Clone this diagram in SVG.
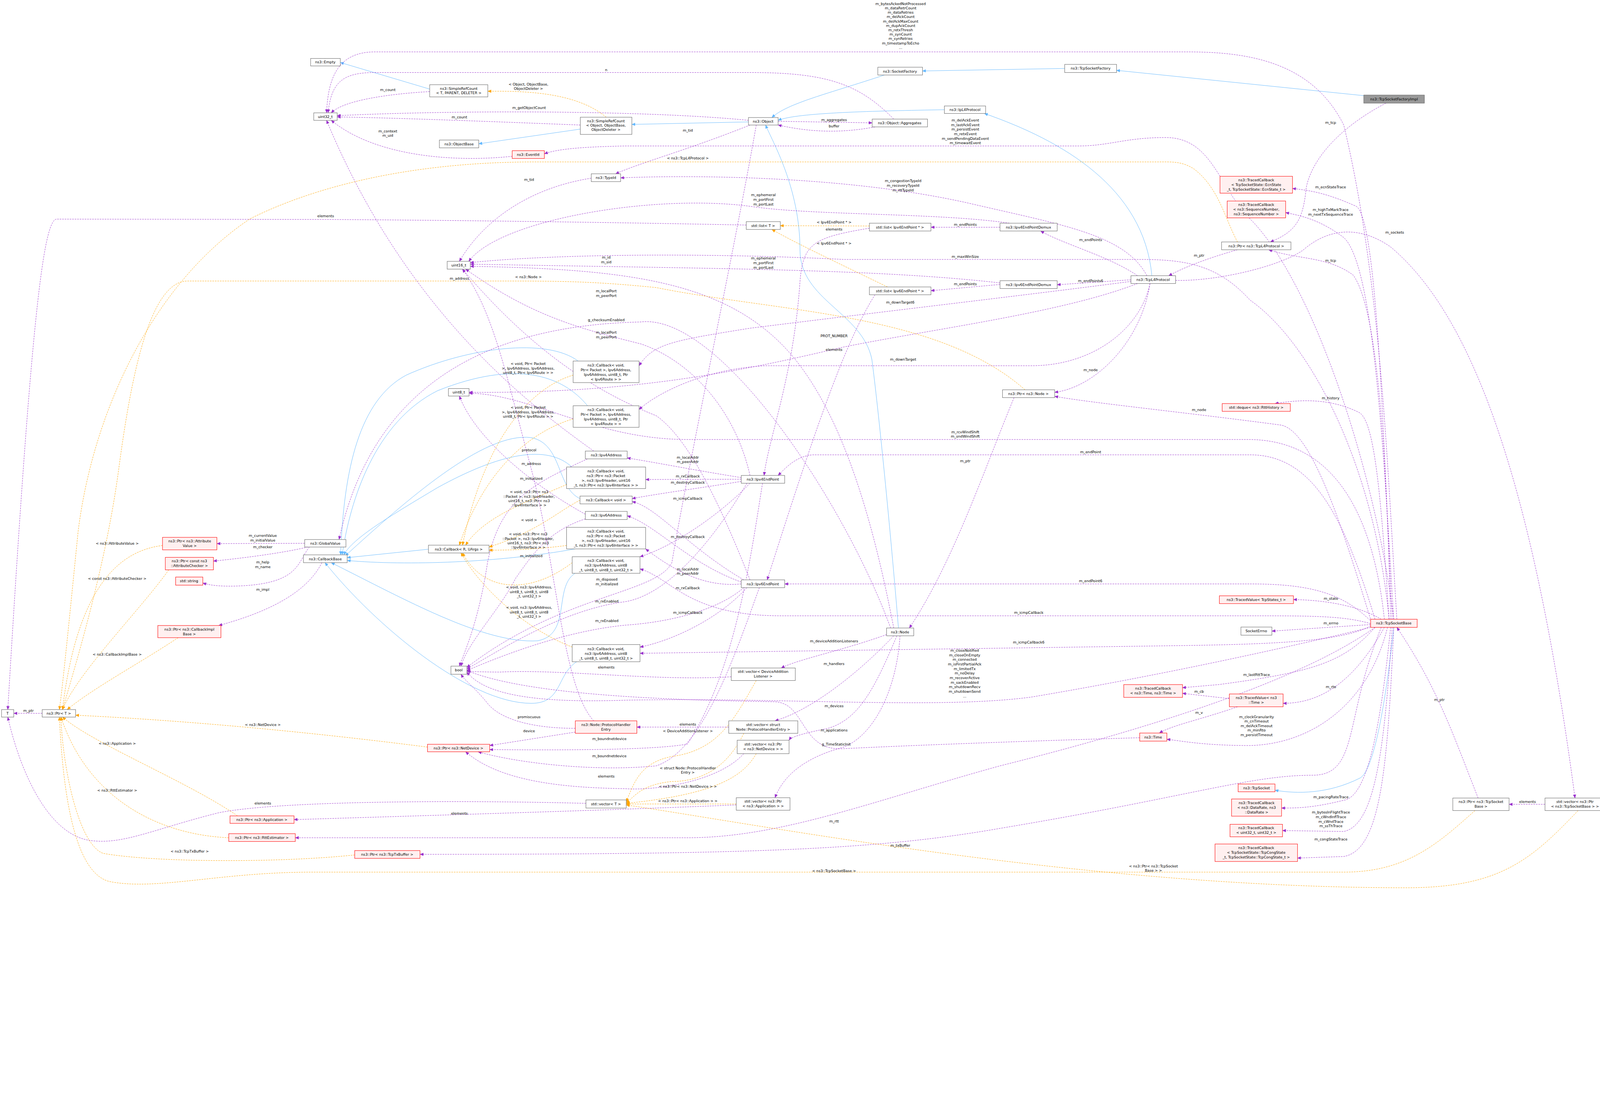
<svg xmlns="http://www.w3.org/2000/svg" width="5144" height="2851" viewBox="0 0 5144 2851">
<style>
text{font-family:"DejaVu Sans","Liberation Sans",sans-serif;font-size:11.5px;fill:#000;text-anchor:middle}
.n rect{fill:#fff;stroke:#666;stroke-width:1.3}
.r rect{fill:#fff0f0;stroke:#f00;stroke-width:1.3}
.g rect{fill:#999;stroke:#666;stroke-width:1.3}
.p{fill:none;stroke:#9a32cd;stroke-width:1.2;stroke-dasharray:5,3;marker-end:url(#ap)}
.o{fill:none;stroke:#ffa500;stroke-width:1.2;stroke-dasharray:5,3;marker-end:url(#ao)}
.b{fill:none;stroke:#63b8ff;stroke-width:1.2;marker-end:url(#ab)}
</style>
<defs>
<marker id="ap" markerUnits="userSpaceOnUse" markerWidth="12" markerHeight="10" refX="11" refY="5" orient="auto"><path d="M0,0L12,5L0,10z" fill="#9a32cd"/></marker>
<marker id="ao" markerUnits="userSpaceOnUse" markerWidth="12" markerHeight="10" refX="11" refY="5" orient="auto"><path d="M0,0L12,5L0,10z" fill="#ffa500"/></marker>
<marker id="ab" markerUnits="userSpaceOnUse" markerWidth="12" markerHeight="10" refX="11" refY="5" orient="auto"><path d="M0,0L12,5L0,10z" fill="#63b8ff"/></marker>
</defs>
<rect width="5144" height="2851" fill="#fff"/>
<g transform="scale(0.8)">
<g id="edges">
<path class="b" d="M1375 285L1089 200"/>
<path class="b" d="M1857 413L1532 460"/>
<path class="b" d="M2395 390L2022 398"/>
<path class="b" d="M2830 240C2650 300 2520 330 2470 376"/>
<path class="b" d="M3407 219L2952 227"/>
<path class="b" d="M4364 306L3573 225"/>
<path class="b" d="M3022 351C2800 355 2550 360 2490 385"/>
<path class="b" d="M3686 882C3660 600 3400 450 3150 363"/>
<path class="b" d="M2875 2009C2850 1700 2810 1300 2790 1150C2760 1000 2560 960 2560 800C2560 600 2470 450 2450 400"/>
<path class="b" d="M4460 2007C4440 2200 4400 2470 4350 2490C4250 2540 4150 2540 4080 2528"/>
<path class="b" d="M1850 1155C1750 1080 1500 1110 1300 1200C1150 1280 1100 1500 1090 1775"/>
<path class="b" d="M1880 1298C1800 1200 1650 1150 1400 1250C1200 1350 1120 1600 1095 1775"/>
<path class="b" d="M1830 1494C1750 1420 1600 1450 1400 1560C1250 1650 1130 1720 1100 1775"/>
<path class="b" d="M1856 1595C1780 1560 1800 1420 1700 1400C1550 1380 1300 1600 1105 1778"/>
<path class="b" d="M1840 1756C1600 1800 1300 1810 1111 1793"/>
<path class="b" d="M1371 1757L1111 1784"/>
<path class="b" d="M1840 1834C1770 1880 1830 2030 1720 2050C1550 2060 1300 1920 1060 1800"/>
<path class="b" d="M1845 2117C1780 2160 1800 2250 1700 2250C1500 2250 1200 2000 1040 1800"/>

<path class="p" d="M1375 293C1250 300 1100 320 1060 361"/>
<path class="p" d="M1857 400C1600 390 1300 378 1079 374"/>
<path class="p" d="M2395 385C2100 355 1500 350 1079 370"/>
<path class="p" d="M1639 500C1450 520 1200 500 1060 385"/>
<path class="p" d="M2860 381C2750 270 2650 232 2400 232L1200 232C1100 232 1060 260 1050 361"/>
<path class="p" d="M4470 1981C4440 1500 4420 900 4300 400C4200 200 4000 166 3800 166L1200 166C1080 166 1050 250 1045 361"/>
<path class="p" d="M2400 400C2200 480 2050 520 1970 556"/>
<path class="p" d="M2490 388L2791 393"/>
<path class="p" d="M2800 406C2700 425 2600 425 2490 400"/>
<path class="p" d="M1892 570C1700 600 1550 700 1470 836"/>
<path class="p" d="M4460 1981C4400 1500 4200 900 4000 700C3900 600 3880 440 3730 440C3600 440 3550 467 3450 467L2000 467C1850 470 1780 478 1742 492"/>
<path class="p" d="M3670 882C3600 750 3400 720 3100 650C2700 560 2200 560 1986 569"/>
<path class="p" d="M3230 714C3000 680 2600 690 2400 660C2100 620 1600 700 1500 836"/>
<path class="p" d="M3200 905C2800 860 2300 860 1505 845"/>
<path class="p" d="M2388 720C2000 712 1500 705 1042 702L180 701C140 710 100 1000 25 2270"/>
<path class="p" d="M2782 730C2600 760 2570 780 2560 900C2540 1200 2460 1400 2445 1521"/>
<path class="p" d="M2800 943C2700 1100 2600 1400 2455 1855"/>
<path class="p" d="M3200 727L2979 727"/>
<path class="p" d="M3200 910L2979 930"/>
<path class="p" d="M3640 882C3550 820 3400 780 3330 739"/>
<path class="p" d="M3619 895L3383 911"/>
<path class="p" d="M3960 799C3850 830 3780 860 3740 882"/>
<path class="p" d="M3762 897C3900 900 4100 850 4170 800C4250 730 4350 720 4450 790C4700 1000 4900 1500 5040 2553"/>
<path class="p" d="M4435 330C4300 400 4200 500 4180 600C4170 700 4150 740 4065 774"/>
<path class="p" d="M4450 1981C4440 1600 4420 1000 4330 880C4250 820 4150 830 4060 799"/>
<path class="p" d="M4455 1981C4430 1500 4410 700 4340 660C4250 620 4200 610 4136 603"/>
<path class="p" d="M4460 1981C4430 1500 4400 850 4300 760C4220 700 4160 690 4114 680"/>
<path class="p" d="M4445 1981C4420 1600 4400 1350 4350 1320C4250 1270 4150 1280 4080 1291"/>
<path class="p" d="M4445 1981C4400 1500 4200 1100 4000 960C3900 850 3800 830 3650 830L2700 830C2300 810 1800 810 1505 840"/>
<path class="p" d="M2860 2009C2800 1700 2700 1300 2500 1100C2300 900 2000 860 1505 852"/>
<path class="p" d="M3680 907C3650 1100 3500 1240 3375 1255"/>
<path class="p" d="M4390 1995C4300 1700 4200 1380 4100 1360C3800 1320 3500 1290 3375 1268"/>
<path class="p" d="M3245 1272C3150 1500 3050 1800 2910 2009"/>
<path class="p" d="M3620 900C3400 930 2800 1000 2400 1050C2150 1090 2090 1100 2045 1170"/>
<path class="p" d="M3680 907C3650 1050 3500 1170 3300 1170L2450 1170C2250 1180 2100 1260 2045 1310"/>
<path class="p" d="M3640 907C3400 1000 3000 1050 2700 1110C2400 1180 2050 1260 1501 1255"/>
<path class="p" d="M1900 1443C1700 1300 1300 1000 1045 385"/>
<path class="p" d="M1873 1645C1700 1550 1520 1400 1470 1267"/>
<path class="p" d="M1900 2306C1800 2200 1780 1800 1700 1500C1620 1200 1580 1000 1480 861"/>
<path class="p" d="M2400 1521C2350 1300 2200 1150 2050 1100C1850 1050 1700 1010 1490 861"/>
<path class="p" d="M2400 1855C2300 1600 2200 1400 2100 1330C1900 1250 1700 1120 1480 861"/>
<path class="p" d="M2850 2009C2700 1600 2300 1000 2050 1030C1600 1040 1200 1200 1085 1726"/>
<path class="p" d="M4400 1981C4300 1650 4200 1455 4000 1455L2600 1455C2550 1460 2520 1490 2490 1521"/>
<path class="p" d="M4390 1990C4300 1900 4200 1868 4000 1868L2511 1868"/>
<path class="p" d="M4386 1995C4300 1970 4200 1970 4000 1970L2500 1970C2200 1970 2150 1850 2048 1820"/>
<path class="p" d="M4386 2002C4300 2050 4100 2060 3800 2065L2048 2090"/>
<path class="p" d="M4386 2007C4000 2100 3600 2180 3300 2230C3000 2270 2500 2230 2000 2240C1700 2250 1550 2220 1494 2150"/>
<path class="p" d="M4430 1981C4400 1700 4300 1410 4000 1406L2200 1406C1900 1406 1700 1260 1501 1258"/>
<path class="p" d="M4420 1981C4350 1940 4250 1920 4139 1918"/>
<path class="p" d="M4386 1998L4070 2019"/>
<path class="p" d="M4400 2007C4300 2120 4200 2150 3900 2190L3784 2200"/>
<path class="p" d="M4430 2007C4350 2150 4250 2250 4106 2250"/>
<path class="p" d="M3934 2235L3784 2218"/>
<path class="p" d="M3960 2261C3850 2300 3750 2320 3710 2345"/>
<path class="p" d="M4440 2007C4380 2250 4200 2380 4000 2385C3850 2385 3780 2370 3734 2365"/>
<path class="p" d="M3647 2360C3300 2370 2900 2385 2700 2395C2560 2405 2580 2250 2480 2245C2200 2240 1700 2230 1494 2145"/>
<path class="p" d="M4450 2007C4420 2300 4380 2550 4300 2560C4200 2585 4150 2585 4101 2585"/>
<path class="p" d="M4455 2007C4430 2400 4400 2640 4300 2660L4104 2657"/>
<path class="p" d="M4460 2007C4440 2450 4420 2720 4300 2740L4152 2745"/>
<path class="p" d="M4400 2007C4200 2150 3800 2300 3200 2450C2800 2560 2500 2680 2200 2680L945 2680"/>
<path class="p" d="M4420 2007C4300 2300 4350 2480 4200 2480C4000 2480 3800 2550 3200 2650C2800 2720 2400 2733 1344 2733"/>
<path class="p" d="M4730 2553C4650 2350 4600 2200 4470 2007"/>
<path class="p" d="M4944 2573L4829 2573"/>
<path class="p" d="M2837 2030C2700 2080 2550 2110 2500 2137"/>
<path class="p" d="M2860 2034C2750 2150 2600 2270 2480 2306"/>
<path class="p" d="M2870 2034C2800 2200 2750 2300 2650 2330C2550 2350 2530 2360 2525 2368"/>
<path class="p" d="M2880 2034C2870 2200 2800 2350 2700 2390C2550 2430 2500 2500 2480 2552"/>
<path class="p" d="M2332 2326L2038 2326"/>
<path class="p" d="M1841 2330C1700 2330 1600 2300 1560 2250C1520 2200 1490 2180 1475 2157"/>
<path class="p" d="M1841 2342L1567 2385"/>
<path class="p" d="M2440 1546C2400 1800 2350 2150 2200 2380C2100 2400 1800 2400 1567 2398"/>
<path class="p" d="M2430 1880C2350 2100 2250 2400 2100 2450C1900 2470 1650 2440 1530 2405"/>
<path class="p" d="M2380 2411C2300 2500 2100 2530 2000 2523C1800 2520 1600 2500 1490 2405"/>
<path class="p" d="M1875 2570C1500 2560 900 2560 700 2600C500 2650 400 2700 300 2690C150 2680 60 2450 25 2294"/>
<path class="p" d="M2356 2575C2000 2590 1500 2605 941 2622"/>
<path class="p" d="M975 1738L694 1739"/>
<path class="p" d="M985 1750C900 1770 780 1785 683 1795"/>
<path class="p" d="M990 1750C950 1800 960 1870 750 1875C700 1876 670 1872 649 1865"/>
<path class="p" d="M1030 1800C980 1900 850 1960 700 2001"/>
<path class="p" d="M135 2282L44 2282"/>
<path class="p" d="M2372 1528C2200 1500 2100 1480 2007 1465"/>
<path class="p" d="M2372 1533L2066 1534"/>
<path class="p" d="M2372 1540C2250 1560 2100 1580 2023 1595"/>
<path class="p" d="M2400 1546C2300 1650 2150 1750 2048 1781"/>
<path class="p" d="M2380 1855C2200 1750 2100 1620 2023 1605"/>
<path class="p" d="M2372 1862C2200 1800 2100 1680 2007 1650"/>
<path class="p" d="M2372 1868C2250 1880 2150 1820 2066 1756"/>
<path class="p" d="M2390 1880C2300 1980 2150 2050 2048 2070"/>
<path class="p" d="M2390 1546C2300 1700 2150 1900 2000 1925C1800 1950 1600 2080 1494 2140"/>
<path class="p" d="M2380 1880C2300 1950 2150 1990 2000 2000C1800 2020 1600 2100 1494 2145"/>
<path class="p" d="M2420 400C2350 800 2200 1500 2150 1800C2100 1900 1800 1900 1494 2135"/>
<path class="p" d="M1880 1468C1700 1550 1600 1600 1560 1800C1530 2000 1480 2100 1470 2131"/>
<path class="p" d="M1873 1660C1750 1700 1700 1780 1650 1850C1600 1950 1500 2050 1475 2131"/>
<path class="p" d="M2340 2165C2100 2180 1800 2140 1600 2150C1550 2150 1510 2148 1494 2148"/>

<path class="o" d="M1940 375C1850 300 1700 290 1561 292"/>
<path class="o" d="M3960 774C3920 700 3900 600 3820 540C3780 515 3750 518 3700 518L1700 518C1300 520 1000 600 800 700C500 900 300 1300 250 1700C220 2000 200 2200 190 2270"/>
<path class="o" d="M3280 1247C3000 1000 2500 1000 2100 920C1900 900 1800 899 1600 899L600 899C480 900 420 1200 380 1500C340 1800 250 2100 200 2270"/>
<path class="o" d="M2782 723L2497 722"/>
<path class="o" d="M2840 918C2700 850 2550 780 2470 734"/>
<path class="o" d="M1834 1200C1700 1240 1550 1400 1480 1744"/>
<path class="o" d="M1834 1340C1700 1380 1550 1500 1470 1744"/>
<path class="o" d="M1813 1550C1700 1600 1550 1650 1490 1744"/>
<path class="o" d="M1856 1600C1780 1640 1720 1700 1565 1750"/>
<path class="o" d="M1813 1745C1700 1760 1600 1760 1565 1760"/>
<path class="o" d="M1831 1800C1700 1900 1550 1900 1480 1769"/>
<path class="o" d="M1831 2070C1700 2020 1550 1900 1475 1769"/>
<path class="o" d="M520 1745C400 1760 250 1850 200 2270"/>
<path class="o" d="M540 1823C450 1950 250 2150 200 2270"/>
<path class="o" d="M570 2040C450 2120 300 2200 215 2270"/>
<path class="o" d="M1368 2390C900 2330 500 2300 242 2288"/>
<path class="o" d="M760 2610C600 2500 300 2380 200 2294"/>
<path class="o" d="M732 2680C500 2670 280 2550 195 2294"/>
<path class="o" d="M1135 2735C900 2760 500 2760 330 2730C250 2700 200 2450 195 2294"/>
<path class="o" d="M4720 2593C4600 2700 4500 2790 4300 2790L1000 2790C700 2790 500 2850 350 2820C230 2790 200 2500 190 2294"/>
<path class="o" d="M5050 2593C4900 2750 4800 2840 4500 2840C3500 2840 2500 2650 2004 2575"/>
<path class="o" d="M2420 2177C2350 2300 2300 2400 2150 2420C2050 2440 2030 2500 2004 2565"/>
<path class="o" d="M2380 2346C2330 2450 2250 2500 2150 2500C2050 2510 2030 2550 2004 2568"/>
<path class="o" d="M2420 2411C2380 2480 2300 2540 2004 2570"/>
<path class="o" d="M2356 2572L2004 2572"/>
</g>
<g id="edge-labels">
<text x="1691" y="274">&lt; Object, ObjectBase,<tspan x="1691" dy="14">ObjectDeleter &gt;</tspan></text>
<text x="2201" y="510">&lt; ns3::TcpL4Protocol &gt;</text>
<text x="1691" y="890">&lt; ns3::Node &gt;</text>
<text x="2669" y="715">&lt; Ipv4EndPoint * &gt;</text>
<text x="2669" y="782">&lt; Ipv6EndPoint * &gt;</text>
<text x="1690" y="1168">&lt; void, Ptr&lt; Packet<tspan x="1690" dy="14">&gt;, Ipv6Address, Ipv6Address,</tspan><tspan x="1690" dy="14">uint8_t, Ptr&lt; Ipv6Route &gt; &gt;</tspan></text>
<text x="1690" y="1308">&lt; void, Ptr&lt; Packet<tspan x="1690" dy="14">&gt;, Ipv4Address, Ipv4Address,</tspan><tspan x="1690" dy="14">uint8_t, Ptr&lt; Ipv4Route &gt; &gt;</tspan></text>
<text x="1693" y="1578">&lt; void, ns3::Ptr&lt; ns3<tspan x="1693" dy="14">::Packet &gt;, ns3::Ipv4Header,</tspan><tspan x="1693" dy="14">uint16_t, ns3::Ptr&lt; ns3</tspan><tspan x="1693" dy="14">::Ipv4Interface &gt; &gt;</tspan></text>
<text x="1693" y="1668">&lt; void &gt;</text>
<text x="1690" y="1713">&lt; void, ns3::Ptr&lt; ns3<tspan x="1690" dy="14">::Packet &gt;, ns3::Ipv6Header,</tspan><tspan x="1690" dy="14">uint16_t, ns3::Ptr&lt; ns3</tspan><tspan x="1690" dy="14">::Ipv6Interface &gt; &gt;</tspan></text>
<text x="1693" y="1883">&lt; void, ns3::Ipv4Address,<tspan x="1693" dy="14">uint8_t, uint8_t, uint8</tspan><tspan x="1693" dy="14">_t, uint32_t &gt;</tspan></text>
<text x="1693" y="1948">&lt; void, ns3::Ipv6Address,<tspan x="1693" dy="14">uint8_t, uint8_t, uint8</tspan><tspan x="1693" dy="14">_t, uint32_t &gt;</tspan></text>
<text x="375" y="1742">&lt; ns3::AttributeValue &gt;</text>
<text x="375" y="1855">&lt; const ns3::AttributeChecker &gt;</text>
<text x="375" y="2098">&lt; ns3::CallbackImplBase &gt;</text>
<text x="841" y="2323">&lt; ns3::NetDevice &gt;</text>
<text x="375" y="2383">&lt; ns3::Application &gt;</text>
<text x="375" y="2533">&lt; ns3::RttEstimator &gt;</text>
<text x="607" y="2728">&lt; ns3::TcpTxBuffer &gt;</text>
<text x="2669" y="2790">&lt; ns3::TcpSocketBase &gt;</text>
<text x="3691" y="2775">&lt; ns3::Ptr&lt; ns3::TcpSocket<tspan x="3691" dy="14">Base &gt; &gt;</tspan></text>
<text x="2201" y="2342">&lt; DeviceAdditionListener &gt;</text>
<text x="2201" y="2461">&lt; struct Node::ProtocolHandler<tspan x="2201" dy="14">Entry &gt;</tspan></text>
<text x="2201" y="2520">&lt; ns3::Ptr&lt; ns3::NetDevice &gt; &gt;</text>
<text x="2201" y="2566">&lt; ns3::Ptr&lt; ns3::Application &gt; &gt;</text>
<text x="1241" y="291">m_count</text>
<text x="1470" y="379">m_count</text>
<text x="1693" y="349">m_getObjectCount</text>
<text x="1241" y="424">m_context<tspan x="1241" dy="14">m_uid</tspan></text>
<text x="1940" y="228">n</text>
<text x="2882" y="16">m_bytesAckedNotProcessed<tspan x="2882" dy="14">m_dataRetrCount</tspan><tspan x="2882" dy="14">m_dataRetries</tspan><tspan x="2882" dy="14">m_delAckCount</tspan><tspan x="2882" dy="14">m_delAckMaxCount</tspan><tspan x="2882" dy="14">m_dupAckCount</tspan><tspan x="2882" dy="14">m_retxThresh</tspan><tspan x="2882" dy="14">m_synCount</tspan><tspan x="2882" dy="14">m_synRetries</tspan><tspan x="2882" dy="14">m_timestampToEcho</tspan><tspan x="2882" dy="14">...</tspan></text>
<text x="2201" y="421">m_tid</text>
<text x="2669" y="388">m_aggregates</text>
<text x="2669" y="407">buffer</text>
<text x="1693" y="579">m_tid</text>
<text x="3089" y="389">m_delAckEvent<tspan x="3089" dy="14.5">m_lastAckEvent</tspan><tspan x="3089" dy="14.5">m_persistEvent</tspan><tspan x="3089" dy="14.5">m_retxEvent</tspan><tspan x="3089" dy="14.5">m_sendPendingDataEvent</tspan><tspan x="3089" dy="14.5">m_timewaitEvent</tspan></text>
<text x="2890" y="583">m_congestionTypeId<tspan x="2890" dy="15">m_recoveryTypeId</tspan><tspan x="2890" dy="15">m_rttTypeId</tspan></text>
<text x="2443" y="627">m_ephemeral<tspan x="2443" dy="15">m_portFirst</tspan><tspan x="2443" dy="15">m_portLast</tspan></text>
<text x="2443" y="830">m_ephemeral<tspan x="2443" dy="15">m_portFirst</tspan><tspan x="2443" dy="15">m_portLast</tspan></text>
<text x="1042" y="695">elements</text>
<text x="2669" y="738">elements</text>
<text x="2669" y="1123">elements</text>
<text x="3089" y="722">m_endPoints</text>
<text x="3089" y="912">m_endPoints</text>
<text x="3490" y="771">m_endPoints</text>
<text x="3490" y="903">m_endPoints6</text>
<text x="3837" y="821">m_ptr</text>
<text x="4463" y="748">m_sockets</text>
<text x="4258" y="396">m_tcp</text>
<text x="4258" y="838">m_tcp</text>
<text x="4258" y="603">m_ecnStateTrace</text>
<text x="4258" y="675">m_highTxMarkTrace<tspan x="4258" dy="15">m_nextTxSequenceTrace</tspan></text>
<text x="4258" y="1278">m_history</text>
<text x="3089" y="825">m_maxWinSize</text>
<text x="1940" y="828">m_id<tspan x="1940" dy="14">m_sid</tspan></text>
<text x="3490" y="1188">m_node</text>
<text x="3837" y="1315">m_node</text>
<text x="3089" y="1479">m_ptr</text>
<text x="2881" y="971">m_downTarget6</text>
<text x="2890" y="1154">m_downTarget</text>
<text x="2669" y="1079">PROT_NUMBER</text>
<text x="1470" y="895">m_address</text>
<text x="1700" y="1487">m_address</text>
<text x="1693" y="1444">protocol</text>
<text x="1940" y="935">m_localPort<tspan x="1940" dy="15">m_peerPort</tspan></text>
<text x="1940" y="1067">m_localPort<tspan x="1940" dy="15">m_peerPort</tspan></text>
<text x="1940" y="1027">g_checksumEnabled</text>
<text x="3490" y="1450">m_endPoint</text>
<text x="3490" y="1863">m_endPoint6</text>
<text x="3292" y="1964">m_icmpCallback</text>
<text x="3292" y="2059">m_icmpCallback6</text>
<text x="3087" y="2085">m_closeNotified<tspan x="3087" dy="14.6">m_closeOnEmpty</tspan><tspan x="3087" dy="14.6">m_connected</tspan><tspan x="3087" dy="14.6">m_isFirstPartialAck</tspan><tspan x="3087" dy="14.6">m_limitedTx</tspan><tspan x="3087" dy="14.6">m_noDelay</tspan><tspan x="3087" dy="14.6">m_recoverActive</tspan><tspan x="3087" dy="14.6">m_sackEnabled</tspan><tspan x="3087" dy="14.6">m_shutdownRecv</tspan><tspan x="3087" dy="14.6">m_shutdownSend</tspan><tspan x="3087" dy="14.6">...</tspan></text>
<text x="3089" y="1386">m_rcvWindShift<tspan x="3089" dy="14">m_sndWindShift</tspan></text>
<text x="4259" y="1919">m_state</text>
<text x="4259" y="1997">m_errno</text>
<text x="4021" y="2162">m_lastRttTrace</text>
<text x="4259" y="2201">m_rto</text>
<text x="3837" y="2216">m_cb</text>
<text x="3837" y="2284">m_v</text>
<text x="4021" y="2297">m_clockGranularity<tspan x="4021" dy="14.5">m_cnTimeout</tspan><tspan x="4021" dy="14.5">m_delAckTimeout</tspan><tspan x="4021" dy="14.5">m_minRto</tspan><tspan x="4021" dy="14.5">m_persistTimeout</tspan></text>
<text x="2676" y="2385">g_TimeStaticInit</text>
<text x="4259" y="2554">m_pacingRateTrace</text>
<text x="4259" y="2603">m_bytesInFlightTrace<tspan x="4259" dy="14.5">m_cWndInflTrace</tspan><tspan x="4259" dy="14.5">m_cWndTrace</tspan><tspan x="4259" dy="14.5">m_ssThTrace</tspan></text>
<text x="4259" y="2689">m_congStateTrace</text>
<text x="2669" y="2631">m_rtt</text>
<text x="2881" y="2709">m_txBuffer</text>
<text x="4606" y="2243">m_ptr</text>
<text x="4888" y="2569">elements</text>
<text x="2669" y="2055">m_deviceAdditionListeners</text>
<text x="2669" y="2127">m_handlers</text>
<text x="2669" y="2263">m_devices</text>
<text x="2669" y="2340">m_applications</text>
<text x="2201" y="2321">elements</text>
<text x="1693" y="2297">promiscuous</text>
<text x="1693" y="2342">device</text>
<text x="1950" y="2368">m_boundnetdevice</text>
<text x="1950" y="2423">m_boundnetdevice</text>
<text x="1940" y="2487">elements</text>
<text x="841" y="2574">elements</text>
<text x="1470" y="2606">elements</text>
<text x="841" y="1718">m_currentValue<tspan x="841" dy="15">m_initialValue</tspan></text>
<text x="841" y="1754">m_checker</text>
<text x="841" y="1803">m_help<tspan x="841" dy="15">m_name</tspan></text>
<text x="841" y="1890">m_impl</text>
<text x="91" y="2278">m_ptr</text>
<text x="2201" y="1467">m_localAddr<tspan x="2201" dy="14">m_peerAddr</tspan></text>
<text x="2201" y="1527">m_rxCallback</text>
<text x="2201" y="1547">m_destroyCallback</text>
<text x="2201" y="1599">m_icmpCallback</text>
<text x="2201" y="1721">m_destroyCallback</text>
<text x="2201" y="1825">m_localAddr<tspan x="2201" dy="14">m_peerAddr</tspan></text>
<text x="2201" y="1885">m_rxCallback</text>
<text x="2201" y="1964">m_icmpCallback</text>
<text x="1942" y="1928">m_rxEnabled</text>
<text x="1942" y="1990">m_rxEnabled</text>
<text x="1942" y="1858">m_disposed<tspan x="1942" dy="14">m_initialized</tspan></text>
<text x="1700" y="1535">m_initialized</text>
<text x="1700" y="1782">m_initialized</text>
<text x="1940" y="2139">elements</text>
</g>
<g id="Empty" class="n"><rect x="994" y="187" width="95" height="24"/><text x="1041" y="203">ns3::Empty</text></g>
<g id="SRC_T" class="n"><rect x="1375" y="271" width="186" height="39"/><text x="1468" y="287">ns3::SimpleRefCount<tspan x="1468" dy="14">&lt; T, PARENT, DELETER &gt;</tspan></text></g>
<g id="uint32" class="n"><rect x="1004" y="361" width="75" height="24"/><text x="1041" y="377">uint32_t</text></g>
<g id="SRC_O" class="n"><rect x="1857" y="375" width="165" height="55"/><text x="1939" y="391">ns3::SimpleRefCount<tspan x="1939" dy="14">&lt; Object, ObjectBase,</tspan><tspan x="1939" dy="14">ObjectDeleter &gt;</tspan></text></g>
<g id="ObjectBase" class="n"><rect x="1406" y="448" width="126" height="25"/><text x="1469" y="465">ns3::ObjectBase</text></g>
<g id="EventId" class="r"><rect x="1639" y="482" width="103" height="25"/><text x="1690" y="499">ns3::EventId</text></g>
<g id="TypeId" class="n"><rect x="1892" y="556" width="94" height="25"/><text x="1939" y="573">ns3::TypeId</text></g>
<g id="uint16" class="n"><rect x="1431" y="836" width="74" height="25"/><text x="1468" y="853">uint16_t</text></g>
<g id="CbV6R" class="n"><rect x="1834" y="1155" width="211" height="69"/><text x="1939" y="1172">ns3::Callback&lt; void,<tspan x="1939" dy="15">Ptr&lt; Packet &gt;, Ipv6Address,</tspan><tspan x="1939" dy="15">Ipv6Address, uint8_t, Ptr</tspan><tspan x="1939" dy="15">&lt; Ipv6Route &gt; &gt;</tspan></text></g>
<g id="uint8" class="n"><rect x="1435" y="1243" width="66" height="24"/><text x="1468" y="1259">uint8_t</text></g>
<g id="CbV4R" class="n"><rect x="1834" y="1298" width="211" height="69"/><text x="1939" y="1315">ns3::Callback&lt; void,<tspan x="1939" dy="15">Ptr&lt; Packet &gt;, Ipv4Address,</tspan><tspan x="1939" dy="15">Ipv4Address, uint8_t, Ptr</tspan><tspan x="1939" dy="15">&lt; Ipv4Route &gt; &gt;</tspan></text></g>
<g id="Ipv4Address" class="n"><rect x="1873" y="1443" width="134" height="25"/><text x="1940" y="1460">ns3::Ipv4Address</text></g>
<g id="CbV4H" class="n"><rect x="1813" y="1494" width="253" height="69"/><text x="1939" y="1511">ns3::Callback&lt; void,<tspan x="1939" dy="15">ns3::Ptr&lt; ns3::Packet</tspan><tspan x="1939" dy="15">&gt;, ns3::Ipv4Header, uint16</tspan><tspan x="1939" dy="15">_t, ns3::Ptr&lt; ns3::Ipv4Interface &gt; &gt;</tspan></text></g>
<g id="CbVoid" class="n"><rect x="1856" y="1587" width="167" height="25"/><text x="1939" y="1604">ns3::Callback&lt; void &gt;</text></g>
<g id="Ipv6Address" class="n"><rect x="1873" y="1636" width="134" height="26"/><text x="1940" y="1653">ns3::Ipv6Address</text></g>
<g id="CbV6H" class="n"><rect x="1813" y="1687" width="253" height="69"/><text x="1939" y="1704">ns3::Callback&lt; void,<tspan x="1939" dy="15">ns3::Ptr&lt; ns3::Packet</tspan><tspan x="1939" dy="15">&gt;, ns3::Ipv6Header, uint16</tspan><tspan x="1939" dy="15">_t, ns3::Ptr&lt; ns3::Ipv6Interface &gt; &gt;</tspan></text></g>
<g id="CbV4A" class="n"><rect x="1831" y="1781" width="217" height="53"/><text x="1939" y="1798">ns3::Callback&lt; void,<tspan x="1939" dy="15">ns3::Ipv4Address, uint8</tspan><tspan x="1939" dy="15">_t, uint8_t, uint8_t, uint32_t &gt;</tspan></text></g>
<g id="CbV6A" class="n"><rect x="1831" y="2062" width="217" height="55"/><text x="1939" y="2080">ns3::Callback&lt; void,<tspan x="1939" dy="15">ns3::Ipv6Address, uint8</tspan><tspan x="1939" dy="15">_t, uint8_t, uint8_t, uint32_t &gt;</tspan></text></g>
<g id="Ipv4EndPoint" class="n"><rect x="2372" y="1521" width="139" height="25"/><text x="2441" y="1538">ns3::Ipv4EndPoint</text></g>
<g id="Ipv6EndPoint" class="n"><rect x="2372" y="1855" width="139" height="25"/><text x="2441" y="1872">ns3::Ipv6EndPoint</text></g>
<g id="Node" class="n"><rect x="2837" y="2009" width="87" height="25"/><text x="2880" y="2026">ns3::Node</text></g>
<g id="VecDAL" class="n"><rect x="2340" y="2137" width="205" height="40"/><text x="2442" y="2153">std::vector&lt; DeviceAddition<tspan x="2442" dy="15">Listener &gt;</tspan></text></g>
<g id="VecPHE" class="n"><rect x="2332" y="2306" width="221" height="40"/><text x="2442" y="2322">std::vector&lt; struct<tspan x="2442" dy="15">Node::ProtocolHandlerEntry &gt;</tspan></text></g>
<g id="VecND" class="n"><rect x="2359" y="2368" width="166" height="43"/><text x="2442" y="2385">std::vector&lt; ns3::Ptr<tspan x="2442" dy="15">&lt; ns3::NetDevice &gt; &gt;</tspan></text></g>
<g id="VecApp" class="n"><rect x="2356" y="2552" width="172" height="40"/><text x="2442" y="2568">std::vector&lt; ns3::Ptr<tspan x="2442" dy="15">&lt; ns3::Application &gt; &gt;</tspan></text></g>
<g id="TVStates" class="r"><rect x="3902" y="1906" width="237" height="25"/><text x="4020" y="1923">ns3::TracedValue&lt; TcpStates_t &gt;</text></g>
<g id="SocketErrno" class="n"><rect x="3971" y="2006" width="99" height="26"/><text x="4020" y="2023">SocketErrno</text></g>
<g id="TcpSocketBase" class="r"><rect x="4386" y="1981" width="149" height="26"/><text x="4460" y="1998">ns3::TcpSocketBase</text></g>
<g id="TCTime" class="r"><rect x="3596" y="2190" width="188" height="41"/><text x="3690" y="2206">ns3::TracedCallback<tspan x="3690" dy="15">&lt; ns3::Time, ns3::Time &gt;</tspan></text></g>
<g id="TVTime" class="r"><rect x="3934" y="2220" width="172" height="41"/><text x="4020" y="2236">ns3::TracedValue&lt; ns3<tspan x="4020" dy="15">::Time &gt;</tspan></text></g>
<g id="Time" class="r"><rect x="3647" y="2345" width="87" height="26"/><text x="3690" y="2362">ns3::Time</text></g>
<g id="TcpSocket" class="r"><rect x="3962" y="2508" width="118" height="25"/><text x="4021" y="2525">ns3::TcpSocket</text></g>
<g id="TCDR" class="r"><rect x="3941" y="2556" width="160" height="55"/><text x="4021" y="2572">ns3::TracedCallback<tspan x="4021" dy="15">&lt; ns3::DataRate, ns3</tspan><tspan x="4021" dy="15">::DataRate &gt;</tspan></text></g>
<g id="TCU32" class="r"><rect x="3936" y="2637" width="168" height="40"/><text x="4020" y="2653">ns3::TracedCallback<tspan x="4020" dy="15">&lt; uint32_t, uint32_t &gt;</tspan></text></g>
<g id="TCCong" class="r"><rect x="3888" y="2700" width="264" height="56"/><text x="4020" y="2716">ns3::TracedCallback<tspan x="4020" dy="15">&lt; TcpSocketState::TcpCongState</tspan><tspan x="4020" dy="15">_t, TcpSocketState::TcpCongState_t &gt;</tspan></text></g>
<g id="PtrTSB" class="n"><rect x="4649" y="2553" width="180" height="40"/><text x="4739" y="2569">ns3::Ptr&lt; ns3::TcpSocket<tspan x="4739" dy="15">Base &gt;</tspan></text></g>
<g id="VecTSB" class="n"><rect x="4944" y="2553" width="193" height="40"/><text x="5040" y="2569">std::vector&lt; ns3::Ptr<tspan x="5040" dy="15">&lt; ns3::TcpSocketBase &gt; &gt;</tspan></text></g>
<g id="TcpSocketFactoryImpl" class="g"><rect x="4364" y="304" width="194" height="26"/><text x="4461" y="321">ns3::TcpSocketFactoryImpl</text></g>
<g id="TCEcn" class="r"><rect x="3904" y="564" width="232" height="54"/><text x="4020" y="580">ns3::TracedCallback<tspan x="4020" dy="15">&lt; TcpSocketState::EcnState</tspan><tspan x="4020" dy="15">_t, TcpSocketState::EcnState_t &gt;</tspan></text></g>
<g id="TCSeq" class="r"><rect x="3927" y="643" width="187" height="54"/><text x="4020" y="659">ns3::TracedCallback<tspan x="4020" dy="15">&lt; ns3::SequenceNumber,</tspan><tspan x="4020" dy="15">ns3::SequenceNumber &gt;</tspan></text></g>
<g id="PtrTL4" class="n"><rect x="3909" y="774" width="222" height="25"/><text x="4020" y="791">ns3::Ptr&lt; ns3::TcpL4Protocol &gt;</text></g>
<g id="Deque" class="r"><rect x="3911" y="1291" width="218" height="25"/><text x="4020" y="1308">std::deque&lt; ns3::RttHistory &gt;</text></g>
<g id="SocketFactory" class="n"><rect x="2809" y="215" width="143" height="25"/><text x="2880" y="232">ns3::SocketFactory</text></g>
<g id="TcpSocketFactory" class="n"><rect x="3407" y="206" width="166" height="26"/><text x="3490" y="223">ns3::TcpSocketFactory</text></g>
<g id="Object" class="n"><rect x="2395" y="376" width="95" height="24"/><text x="2442" y="392">ns3::Object</text></g>
<g id="IpL4Protocol" class="n"><rect x="3022" y="339" width="132" height="24"/><text x="3088" y="355">ns3::IpL4Protocol</text></g>
<g id="Aggregates" class="n"><rect x="2791" y="381" width="177" height="25"/><text x="2879" y="398">ns3::Object::Aggregates</text></g>
<g id="ListT" class="n"><rect x="2388" y="709" width="109" height="25"/><text x="2442" y="726">std::list&lt; T &gt;</text></g>
<g id="ListV4" class="n"><rect x="2782" y="714" width="197" height="25"/><text x="2880" y="731">std::list&lt; Ipv4EndPoint * &gt;</text></g>
<g id="V4Demux" class="n"><rect x="3200" y="714" width="183" height="25"/><text x="3291" y="731">ns3::Ipv4EndPointDemux</text></g>
<g id="V6Demux" class="n"><rect x="3200" y="898" width="183" height="25"/><text x="3291" y="915">ns3::Ipv6EndPointDemux</text></g>
<g id="ListV6" class="n"><rect x="2782" y="918" width="197" height="25"/><text x="2880" y="935">std::list&lt; Ipv6EndPoint * &gt;</text></g>
<g id="TcpL4Protocol" class="n"><rect x="3619" y="882" width="143" height="25"/><text x="3690" y="899">ns3::TcpL4Protocol</text></g>
<g id="PtrNode" class="n"><rect x="3208" y="1247" width="167" height="25"/><text x="3291" y="1264">ns3::Ptr&lt; ns3::Node &gt;</text></g>
<g id="GlobalValue" class="n"><rect x="975" y="1726" width="132" height="24"/><text x="1041" y="1742">ns3::GlobalValue</text></g>
<g id="CallbackBase" class="n"><rect x="971" y="1775" width="140" height="25"/><text x="1041" y="1792">ns3::CallbackBase</text></g>
<g id="PtrAV" class="r"><rect x="520" y="1719" width="174" height="40"/><text x="607" y="1735">ns3::Ptr&lt; ns3::Attribute<tspan x="607" dy="15">Value &gt;</tspan></text></g>
<g id="PtrAC" class="r"><rect x="529" y="1783" width="154" height="40"/><text x="606" y="1799">ns3::Ptr&lt; const ns3<tspan x="606" dy="15">::AttributeChecker &gt;</tspan></text></g>
<g id="String" class="r"><rect x="562" y="1846" width="87" height="26"/><text x="605" y="1863">std::string</text></g>
<g id="PtrCIB" class="r"><rect x="505" y="2001" width="202" height="39"/><text x="606" y="2017">ns3::Ptr&lt; ns3::CallbackImpl<tspan x="606" dy="15">Base &gt;</tspan></text></g>
<g id="CbR" class="n"><rect x="1371" y="1744" width="194" height="25"/><text x="1468" y="1761">ns3::Callback&lt; R, UArgs &gt;</text></g>
<g id="Bool" class="n"><rect x="1443" y="2131" width="51" height="26"/><text x="1468" y="2148">bool</text></g>
<g id="T" class="n"><rect x="5" y="2270" width="39" height="24"/><text x="24" y="2286">T</text></g>
<g id="PtrT" class="n"><rect x="135" y="2270" width="107" height="24"/><text x="188" y="2286">ns3::Ptr&lt; T &gt;</text></g>
<g id="PHE" class="r"><rect x="1841" y="2306" width="197" height="40"/><text x="1939" y="2322">ns3::Node::ProtocolHandler<tspan x="1939" dy="15">Entry</tspan></text></g>
<g id="PtrND" class="r"><rect x="1368" y="2381" width="199" height="24"/><text x="1467" y="2397">ns3::Ptr&lt; ns3::NetDevice &gt;</text></g>
<g id="VecT" class="n"><rect x="1875" y="2559" width="129" height="26"/><text x="1939" y="2576">std::vector&lt; T &gt;</text></g>
<g id="PtrApp" class="r"><rect x="736" y="2610" width="205" height="24"/><text x="838" y="2626">ns3::Ptr&lt; ns3::Application &gt;</text></g>
<g id="PtrRtt" class="r"><rect x="732" y="2667" width="213" height="25"/><text x="838" y="2684">ns3::Ptr&lt; ns3::RttEstimator &gt;</text></g>
<g id="PtrTxB" class="r"><rect x="1135" y="2721" width="209" height="25"/><text x="1239" y="2738">ns3::Ptr&lt; ns3::TcpTxBuffer &gt;</text></g>
</g>
</svg>
